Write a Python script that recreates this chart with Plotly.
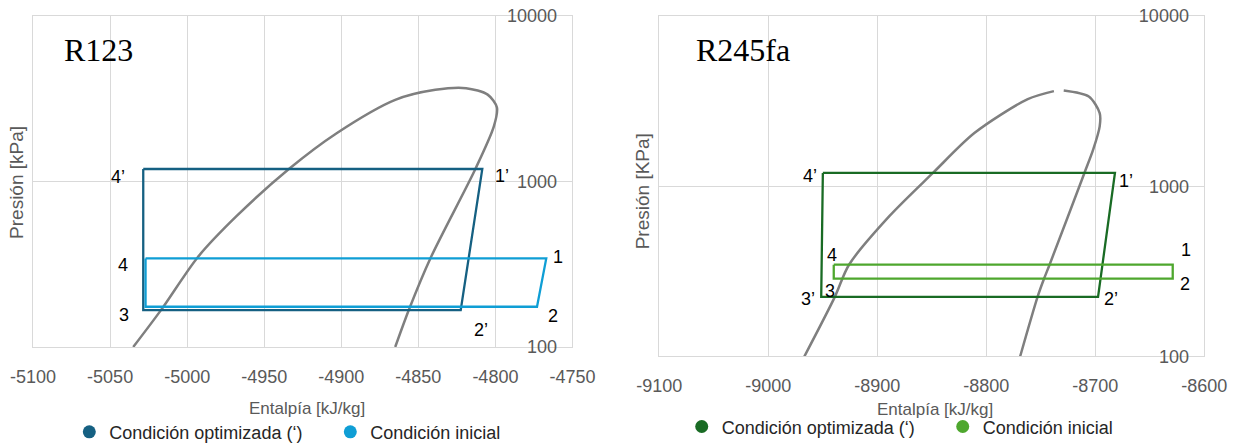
import numpy as np
import plotly.graph_objects as go

# ---------------- data ----------------
# R123 (left)
r123_opt_h = [-5028.5, -4808.5, -4822.5, -5028.5, -5028.5]
r123_opt_p = [1190, 1190, 167, 167, 1190]
r123_ini_h = [-5027, -4767, -4773, -5027, -5027]
r123_ini_p = [343, 343, 175, 175, 343]
r123_dome_h = [-5035, -5017, -4993, -4968, -4934, -4903, -4865, -4839, -4819,
               -4805, -4799, -4801, -4813, -4842, -4856, -4865]
r123_dome_p = [100, 167, 350, 617, 1190, 1958, 3113, 3580, 3664,
               3350, 2800, 2153, 1190, 346, 169, 100]
r123_labels = ["4’", "1’", "2’", "3", "4", "1", "2"]

# R245fa (right)
r245_opt_h = [-8950, -8682, -8697.5, -8951.5, -8950]
r245_opt_p = [1197, 1197, 224, 224, 1197]
r245_ini_h = [-8940, -8629, -8629, -8940, -8940]
r245_ini_p = [346, 346, 287, 287, 346]
r245_dome_h = [-8967, -8939, -8926, -8889, -8849, -8811, -8762, -8738, None,
               -8729, -8706, -8696, -8696, -8702, -8710, -8742, -8747, -8753, -8769]
r245_dome_p = [100, 224, 346, 667, 1197, 2053, 3250, 3622, None,
               3651, 3365, 2692, 2248, 1640, 1197, 346, 287, 224, 100]
r245_labels = ["4’", "1’", "2’", "3’", "3", "4", "1", "2"]

x1_ticks = [-5100, -5050, -5000, -4950, -4900, -4850, -4800, -4750]
x2_ticks = [-9100, -9000, -8900, -8800, -8700, -8600]
y_ticks = [100, 1000, 10000]

C_OPT1, C_INI1 = "#156082", "#0F9ED5"
C_OPT2, C_INI2 = "#196B24", "#4EA72E"
C_DOME = "#7F7F7F"
FONT = "Liberation Sans"

fig = go.Figure()

# domes
fig.add_trace(go.Scatter(x=r123_dome_h, y=r123_dome_p, mode="lines",
                         line=dict(color=C_DOME, width=2.5, shape="spline", smoothing=0.8),
                         showlegend=False, hoverinfo="skip", xaxis="x", yaxis="y"))
fig.add_trace(go.Scatter(x=r245_dome_h, y=r245_dome_p, mode="lines",
                         line=dict(color=C_DOME, width=2.5, shape="spline", smoothing=0.8),
                         showlegend=False, hoverinfo="skip", xaxis="x2", yaxis="y2", connectgaps=False))
# cycles
fig.add_trace(go.Scatter(x=r123_opt_h, y=r123_opt_p, mode="lines", line=dict(color=C_OPT1, width=2.3),
                         showlegend=False, xaxis="x", yaxis="y"))
fig.add_trace(go.Scatter(x=r123_ini_h, y=r123_ini_p, mode="lines", line=dict(color=C_INI1, width=2.3),
                         showlegend=False, xaxis="x", yaxis="y"))
fig.add_trace(go.Scatter(x=r245_opt_h, y=r245_opt_p, mode="lines", line=dict(color=C_OPT2, width=2.3),
                         showlegend=False, xaxis="x2", yaxis="y2"))
fig.add_trace(go.Scatter(x=r245_ini_h, y=r245_ini_p, mode="lines", line=dict(color=C_INI2, width=2.3),
                         showlegend=False, xaxis="x2", yaxis="y2"))

# legend entries
fig.add_trace(go.Scatter(x=[None], y=[None], mode="markers", marker=dict(color=C_OPT1, size=13),
                         name="Condición optimizada (‘)", legend="legend", xaxis="x", yaxis="y"))
fig.add_trace(go.Scatter(x=[None], y=[None], mode="markers", marker=dict(color=C_INI1, size=13),
                         name="Condición inicial", legend="legend", xaxis="x", yaxis="y"))
fig.add_trace(go.Scatter(x=[None], y=[None], mode="markers", marker=dict(color=C_OPT2, size=13),
                         name="Condición optimizada (‘)", legend="legend2", xaxis="x2", yaxis="y2"))
fig.add_trace(go.Scatter(x=[None], y=[None], mode="markers", marker=dict(color=C_INI2, size=13),
                         name="Condición inicial", legend="legend2", xaxis="x2", yaxis="y2"))

axis_common = dict(showgrid=True, gridcolor="#D9D9D9", gridwidth=1, showline=True, linecolor="#D9D9D9",
                   linewidth=1, mirror=True, zeroline=False, ticks="", automargin=False,
                   ticklabeloverflow="allow",
                   tickfont=dict(family=FONT, size=18, color="#595959"))
yaxis_common = dict(axis_common, type="log", range=[2, 4], tickvals=y_ticks, ticktext=[str(v) for v in y_ticks],
                    side="right", ticklabelposition="inside", ticklabelstandoff=16)

fig.update_layout(
    width=1238, height=446, margin=dict(l=0, r=0, t=0, b=0, autoexpand=False),
    paper_bgcolor="white", plot_bgcolor="white",
    xaxis=dict(axis_common, domain=[0.0267, 0.4624], range=[-5100, -4750], anchor="y",
               tickvals=x1_ticks, ticktext=[str(v) for v in x1_ticks], ticklabelstandoff=13),
    yaxis=dict(yaxis_common, domain=[0.2220, 0.9641], anchor="x"),
    xaxis2=dict(axis_common, domain=[0.5326, 0.9728], range=[-9100, -8600], anchor="y2",
                tickvals=x2_ticks, ticktext=[str(v) for v in x2_ticks], ticklabelstandoff=13),
    yaxis2=dict(yaxis_common, domain=[0.2007, 0.9641], anchor="x2"),
    legend=dict(orientation="h", x=0.2668, y=0.031, xanchor="center", yanchor="middle",
                entrywidth=216, font=dict(family=FONT, size=18, color="#262626"), bgcolor="rgba(0,0,0,0)"),
    legend2=dict(orientation="h", x=0.7615, y=0.043, xanchor="center", yanchor="middle",
                 entrywidth=216, font=dict(family=FONT, size=18, color="#262626"), bgcolor="rgba(0,0,0,0)"),
    showlegend=True,
)

ann = []
pa = dict(xref="paper", yref="paper", showarrow=False, xanchor="center", yanchor="middle")
# titles
ann.append(dict(pa, text="R123", x=0.0792, y=0.888, font=dict(family="Liberation Serif", size=32, color="black")))
ann.append(dict(pa, text="R245fa", x=0.600, y=0.888, font=dict(family="Liberation Serif", size=32, color="black")))
# axis titles
axt = dict(family=FONT, size=17, color="#595959")
ayt = dict(family=FONT, size=19, color="#595959")
ann.append(dict(pa, text="Entalpía [kJ/kg]", x=0.248, y=0.085, font=axt))
ann.append(dict(pa, text="Entalpía [kJ/kg]", x=0.755, y=0.081, font=axt))
ann.append(dict(pa, text="Presión [kPa]", x=0.0137, y=0.592, textangle=-90, font=ayt))
ann.append(dict(pa, text="Presión [KPa]", x=0.519, y=0.570, textangle=-90, font=ayt))

lab_font = dict(family=FONT, size=18, color="black")
# R123 point labels: (label, h, p, xshift, yshift)
r123_pts = [
    (r123_labels[0], r123_opt_h[0], r123_opt_p[0], -25, -8),
    (r123_labels[1], r123_opt_h[1], r123_opt_p[1], 20, -7),
    (r123_labels[2], r123_opt_h[2], r123_opt_p[2], 20, -20),
    (r123_labels[3], r123_opt_h[3], r123_opt_p[3], -19, -5),
    (r123_labels[4], r123_ini_h[0], r123_ini_p[0], -23, -7),
    (r123_labels[5], r123_ini_h[1], r123_ini_p[1], 12, 1),
    (r123_labels[6], r123_ini_h[2], r123_ini_p[2], 16, -9),
]
for t, h, p, dx, dy in r123_pts:
    ann.append(dict(text=t, x=h, y=np.log10(p), xref="x", yref="y", showarrow=False,
                    xanchor="center", yanchor="middle", xshift=dx, yshift=dy, font=lab_font))

r245_pts = [
    (r245_labels[0], r245_opt_h[0], r245_opt_p[0], -13, -3),
    (r245_labels[1], r245_opt_h[1], r245_opt_p[1], 11, -8),
    (r245_labels[2], r245_opt_h[2], r245_opt_p[2], 13, -2),
    (r245_labels[3], r245_opt_h[3], r245_opt_p[3], -13, -2),
    (r245_labels[4], r245_ini_h[3], r245_ini_p[3], -4, -12),
    (r245_labels[5], r245_ini_h[0], r245_ini_p[0], -2, 10),
    (r245_labels[6], r245_ini_h[1], r245_ini_p[1], 13, 15),
    (r245_labels[7], r245_ini_h[2], r245_ini_p[2], 12, -5),
]
for t, h, p, dx, dy in r245_pts:
    ann.append(dict(text=t, x=h, y=np.log10(p), xref="x2", yref="y2", showarrow=False,
                    xanchor="center", yanchor="middle", xshift=dx, yshift=dy, font=lab_font))

fig.update_layout(annotations=ann)
fig.write_html("out.html")
